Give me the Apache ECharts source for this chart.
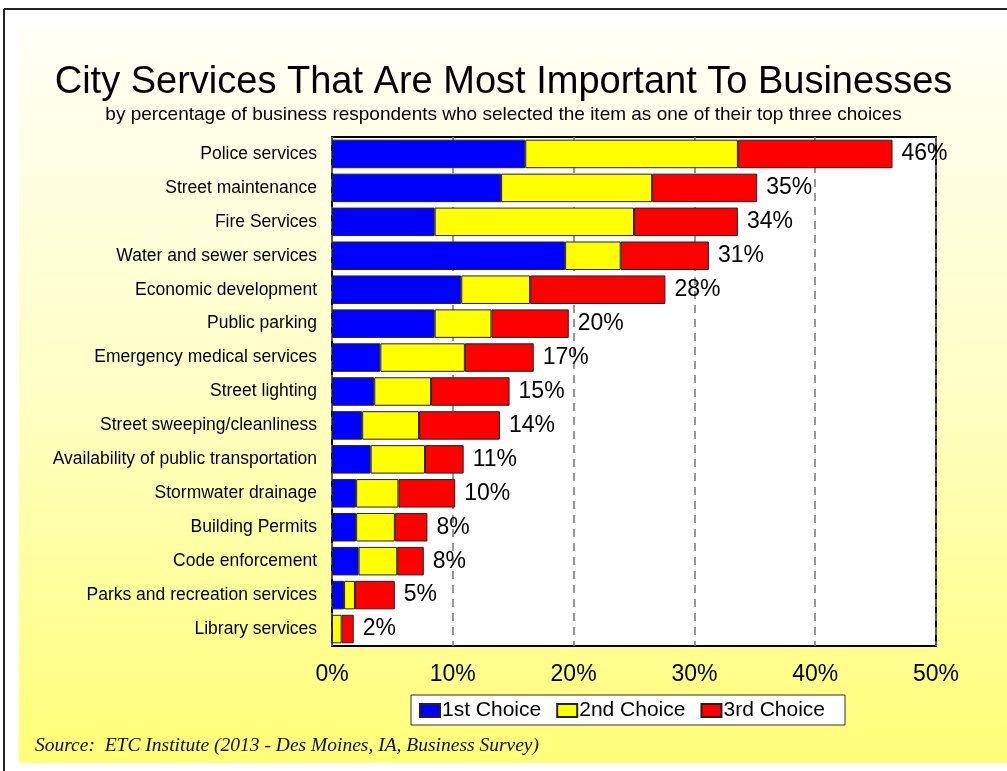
<!DOCTYPE html>
<html>
<head>
<meta charset="utf-8">
<script src="https://cdn.jsdelivr.net/npm/echarts@6/dist/echarts.min.js"></script>
<style>
  html, body { margin: 0; padding: 0; background: #ffffff; }
  #chart { width: 1007px; height: 771px; }
</style>
</head>
<body>
<div id="chart"></div>
<script>
// Services, listed top to bottom
const categories = [
  'Police services', 'Street maintenance', 'Fire Services', 'Water and sewer services',
  'Economic development', 'Public parking', 'Emergency medical services', 'Street lighting',
  'Street sweeping/cleanliness', 'Availability of public transportation', 'Stormwater drainage',
  'Building Permits', 'Code enforcement', 'Parks and recreation services', 'Library services'
];
// Percent of respondents naming the service as their 1st / 2nd / 3rd choice
const firstChoice  = [16.0, 14.0,  8.5, 19.3, 10.7, 8.5, 4.0, 3.5, 2.5, 3.2, 2.0, 2.0, 2.2, 1.0, 0.0];
const secondChoice = [17.6, 12.5, 16.5,  4.6,  5.7, 4.7, 7.0, 4.7, 4.7, 4.5, 3.5, 3.2, 3.2, 0.9, 0.8];
const thirdChoice  = [12.8,  8.7,  8.6,  7.3, 11.2, 6.4, 5.7, 6.5, 6.7, 3.2, 4.7, 2.7, 2.2, 3.3, 1.0];
const seriesNames = ['1st Choice', '2nd Choice', '3rd Choice'];
const xTicks = [0, 10, 20, 30, 40, 50];

const totals = categories.map((_, i) => firstChoice[i] + secondChoice[i] + thirdChoice[i]);

const FONT = "'Liberation Sans', Arial, sans-serif";
const chart = echarts.init(document.getElementById('chart'));

const barBorder = { borderColor: '#222', borderWidth: 1 };

chart.setOption({
  animation: false,
  backgroundColor: '#ffffff',
  graphic: [
    {
      type: 'rect', z: -100, silent: true,
      shape: { x: 19, y: 28, width: 988, height: 735 },
      style: {
        fill: new echarts.graphic.LinearGradient(0, 0, 0, 1, [
          { offset: 0, color: '#fffff6' },
          { offset: 0.5, color: '#ffffc4' },
          { offset: 1, color: '#ffff78' }
        ])
      }
    },
    { type: 'line', z: -50, silent: true, shape: { x1: 4, y1: 9, x2: 1007, y2: 9 }, style: { stroke: '#222', lineWidth: 2 } },
    { type: 'line', z: -50, silent: true, shape: { x1: 4, y1: 9, x2: 4, y2: 771 }, style: { stroke: '#222', lineWidth: 2 } },
    {
      type: 'text', left: 35, top: 736, silent: true,
      style: {
        text: 'Source:  ETC Institute (2013 - Des Moines, IA, Business Survey)',
        font: "italic 19.5px 'Liberation Serif', 'Times New Roman', serif",
        fill: '#111'
      }
    }
  ],
  title: [
    {
      text: 'City Services That Are Most Important To Businesses',
      left: 'center', top: 59,
      textStyle: { fontFamily: FONT, fontSize: 38, fontWeight: 'normal', color: '#000' }
    },
    {
      text: 'by percentage of business respondents who selected the item as one of their top three choices',
      left: 'center', top: 100,
      textStyle: { fontFamily: FONT, fontSize: 19, fontWeight: 'normal', color: '#000' }
    }
  ],
  legend: {
    data: seriesNames,
    left: 411, top: 695,
    backgroundColor: '#ffffff',
    borderColor: '#333', borderWidth: 1,
    padding: [5, 20, 4, 8],
    itemWidth: 20, itemHeight: 13, itemGap: 15,
    icon: 'rect',
    textStyle: { fontFamily: FONT, fontSize: 21, color: '#000', padding: [2, 0, 0, -3] }
  },
  grid: {
    left: 332, right: 71, top: 137, height: 509,
    show: true, backgroundColor: '#ffffff', borderColor: '#000', borderWidth: 2,
    containLabel: false
  },
  xAxis: {
    type: 'value', min: xTicks[0], max: xTicks[xTicks.length - 1], interval: 10,
    axisLine: { show: false },
    axisTick: { show: false },
    axisLabel: {
      fontFamily: FONT, fontSize: 23, color: '#000', margin: 17,
      formatter: v => v + '%'
    },
    splitLine: { show: true, lineStyle: { color: '#777', type: [8, 6], width: 1.5 } }
  },
  yAxis: {
    type: 'category', data: categories, inverse: true,
    axisLine: { show: false },
    axisTick: { show: false },
    axisLabel: { fontFamily: FONT, fontSize: 17.5, color: '#000', margin: 15 }
  },
  series: [
    {
      name: seriesNames[0], type: 'bar', stack: 'total', data: firstChoice,
      barCategoryGap: '16%',
      itemStyle: Object.assign({ color: '#0000ff' }, barBorder)
    },
    {
      name: seriesNames[1], type: 'bar', stack: 'total', data: secondChoice,
      itemStyle: Object.assign({ color: '#ffff00' }, barBorder)
    },
    {
      name: seriesNames[2], type: 'bar', stack: 'total', data: thirdChoice,
      itemStyle: Object.assign({ color: '#ff0000' }, barBorder),
      label: {
        show: true, position: 'right', distance: 9,
        fontFamily: FONT, fontSize: 23, color: '#000',
        formatter: p => Math.round(totals[p.dataIndex]) + '%'
      }
    }
  ]
});
</script>
</body>
</html>
